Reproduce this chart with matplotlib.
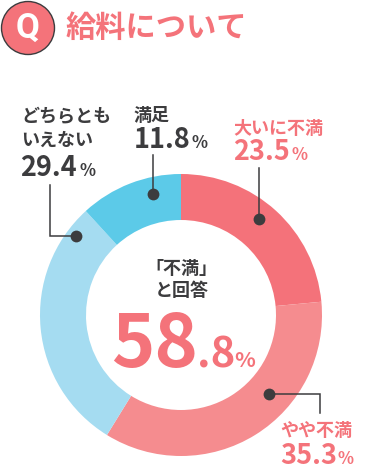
"""Donut chart of salary satisfaction, redrawn in pixel coordinates."""
import matplotlib

matplotlib.use("Agg")
import matplotlib.pyplot as plt
from matplotlib.patches import Circle

WIDTH, HEIGHT = 379, 474
CJK = ["Noto Sans CJK JP", "DejaVu Sans"]
PINK = "#f4737a"
DARK = "#3c3c3e"

categories = ["大いに不満", "やや不満", "どちらとも\nいえない", "満足"]
values = [23.5, 35.3, 29.4, 11.8]
colors = ["#f4727a", "#f58c8f", "#a5dcf1", "#5ccae8"]
total_label = "58.8"

plt.rcParams["font.family"] = CJK
fig = plt.figure(figsize=(WIDTH / 100, HEIGHT / 100), dpi=100)
ax = fig.add_axes([0, 0, 1, 1])


def py(y):
    # picture y (from the top) to axes y
    return HEIGHT - y


def label(x, y, s, size, color=DARK, ha="left", weight="bold"):
    ax.text(x, py(y), s, fontsize=size, color=color, ha=ha, va="baseline", fontweight=weight)


def leader(xs, ys):
    ax.plot(xs, [py(y) for y in ys], color=DARK, lw=1.1, solid_joinstyle="miter", zorder=4)
    ax.plot(xs[-1], py(ys[-1]), "o", color=DARK, ms=8.5, mew=0, zorder=5)


ax.pie(values, colors=colors, startangle=90, counterclock=False, radius=141,
       center=(181, py(315)), frame=True, wedgeprops={"width": 46, "linewidth": 0})
ax.set_xlim(0, WIDTH)
ax.set_ylim(0, HEIGHT)
ax.set_aspect("equal")
ax.axis("off")

# header
ax.add_patch(Circle((28, py(28)), 26.5, fc=PINK, ec=DARK, lw=1.0))
ax.text(28, py(38), "Q", fontsize=25, color="white", ha="center", va="baseline",
        fontweight="bold", family="Roboto")
label(66, 37, "給料について", 21.8, PINK)

# slice labels
label(233, 134, categories[0], 13, PINK)
label(233, 160, "23.5", 19.5, PINK)
label(291, 160, "%", 12, PINK)
leader([259, 259], [168, 219])

label(134, 121, categories[3], 13)
label(134, 148, "11.8", 19.5)
label(191, 148, "%", 12)
leader([153, 153], [155, 194])

label(21, 122, "どちらとも", 13)
label(21, 146, "いえない", 13)
label(20, 176, "29.4", 19.5)
label(79, 176, "%", 12)
leader([50, 50, 76], [185, 236, 236])

label(280, 436, categories[1], 13, PINK)
label(280, 464, "35.3", 19.5, PINK)
label(338, 464, "%", 12, PINK)
leader([320, 320, 269], [413, 394, 394])

# centre total
label(181, 274, "「不満」", 13, ha="center")
label(182, 296, "と回答", 13, ha="center")
label(111, 367, total_label[:2], 53, PINK)
label(197, 367, total_label[2:], 30, PINK)
label(234, 367, "%", 15.5, PINK)

fig.savefig("out.png", dpi=100)
